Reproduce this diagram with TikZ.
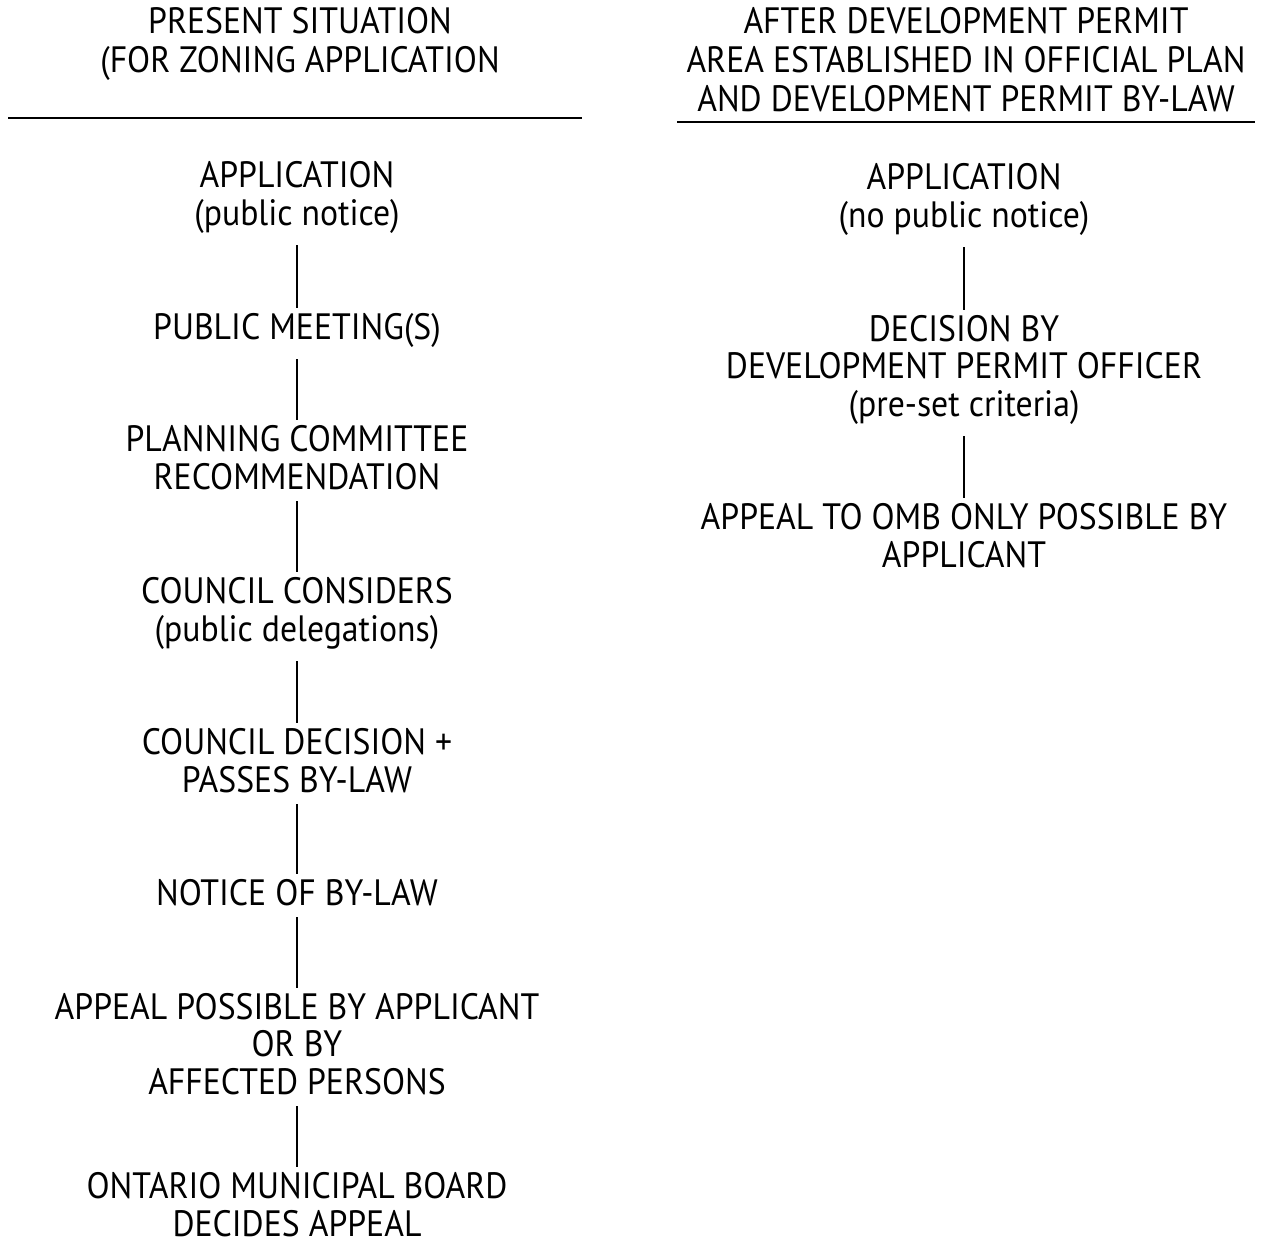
\documentclass[tikz,border=0pt]{standalone}
\usepackage{fontspec}
\setmainfont[FakeStretch=0.92]{PT Sans}
\usepackage{tikz}

\begin{document}
\begin{tikzpicture}[x=0.75pt,y=0.75pt,yscale=-1,xscale=1,
  steptext/.style={anchor=base,inner sep=0.75pt,align=center,font=\fontsize{27.5}{28}\selectfont},
  headtext/.style={anchor=base,inner sep=0.75pt,align=center,font=\fontsize{27.5}{29}\selectfont},
  link/.style={line width=1.7pt,shorten <=8pt,shorten >=3pt},
  headrule/.style={line width=2.2pt}]
\useasboundingbox (0,0) rectangle (1262,1246);

% Headings (node base = baseline of the last line)
\node (lHead) at (300,72) [headtext] {PRESENT SITUATION\\(FOR ZONING APPLICATION};
\node (rHead) at (966,111) [headtext] {AFTER DEVELOPMENT PERMIT\\AREA ESTABLISHED IN OFFICIAL PLAN\\AND DEVELOPMENT PERMIT BY-LAW};
\draw [headrule] (8,118) -- (582,118);
\draw [headrule] (677,122) -- (1255,122);

% Left column: present situation
\node (lApp) at (297,225) [steptext] {APPLICATION\\(public notice)};
\node (lMeet) at (297,339) [steptext] {PUBLIC MEETING(S)};
\node (lPlan) at (297,489) [steptext] {PLANNING COMMITTEE\\RECOMMENDATION};
\node (lCouncil) at (297,641) [steptext] {COUNCIL CONSIDERS\\(public delegations)};
\node (lDecide) at (297,792) [steptext] {COUNCIL DECISION +\\PASSES BY-LAW};
\node (lNotice) at (297,905) [steptext] {NOTICE OF BY-LAW};
\node (lAppeal) at (297,1094) [steptext] {APPEAL POSSIBLE BY APPLICANT\\OR BY\\AFFECTED PERSONS};
\node (lOmb) at (297,1236) [steptext] {ONTARIO MUNICIPAL BOARD\\DECIDES APPEAL};

% Right column: after development permit
\node (rApp) at (964,227) [steptext] {APPLICATION\\(no public notice)};
\node (rDecide) at (964,416) [steptext] {DECISION BY\\DEVELOPMENT PERMIT OFFICER\\(pre-set criteria)};
\node (rOmb) at (964,567) [steptext] {APPEAL TO OMB ONLY POSSIBLE BY\\APPLICANT};

% Connectors
\draw [link] (lApp) -- (lMeet);
\draw [link] (lMeet) -- (lPlan);
\draw [link] (lPlan) -- (lCouncil);
\draw [link] (lCouncil) -- (lDecide);
\draw [link] (lDecide) -- (lNotice);
\draw [link] (lNotice) -- (lAppeal);
\draw [link] (lAppeal) -- (lOmb);
\draw [link] (rApp) -- (rDecide);
\draw [link] (rDecide) -- (rOmb);

\end{tikzpicture}
\end{document}
